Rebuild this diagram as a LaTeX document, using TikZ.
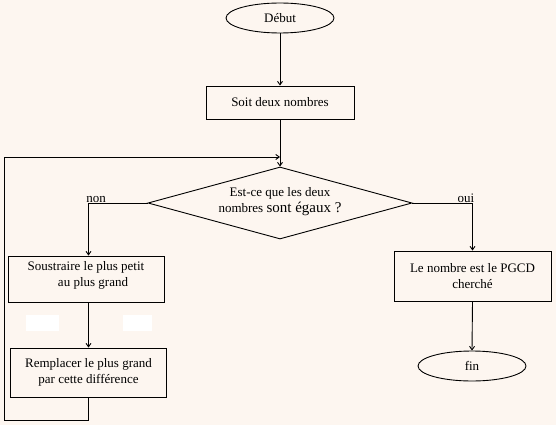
\documentclass[tikz,border=0pt]{standalone}
\usepackage{fontspec}
\setmainfont{Liberation Serif}
\usetikzlibrary{shapes.geometric,arrows.meta}
\definecolor{bg}{RGB}{253,246,240}
\begin{document}
\begin{tikzpicture}[x=1pt,y=-1pt,
  every node/.style={font=\fontsize{13}{16.5}\selectfont},
  boxnode/.style={draw,line width=0.9pt,rectangle,inner sep=0pt,align=center},
  ovalnode/.style={draw,line width=0.9pt,ellipse,inner sep=0pt,minimum width=108pt,minimum height=30pt},
  arr/.style={line width=0.9pt,-{Straight Barb[length=3.5pt,width=5pt]}},
  lbl/.style={inner sep=0pt}]
\fill[bg] (0,0) rectangle (556,425);
\useasboundingbox (0,0) rectangle (556,425);
\fill[white] (26,315) rectangle (59,331);
\fill[white] (123,315) rectangle (152,331);

\node[ovalnode] (deb) at (280,18) {Début};
\node[boxnode,minimum width=148pt,minimum height=33pt] (soit) at (280,102.5) {Soit deux nombres};
\node[draw,line width=0.9pt,diamond,aspect=3.67,inner sep=0pt,minimum width=264pt,minimum height=72pt,align=center] (q) at (280,203)
  {\mbox{}\\[-10pt]Est-ce que les deux\\nombres {\fontsize{15}{16.5}\selectfont sont égaux ?}};
\node[boxnode,minimum width=156pt,minimum height=46pt] (sous) at (86,279)
  {Soustraire le plus petit\\\hspace*{14pt}au plus grand\\[-6pt]};
\node[boxnode,minimum width=156pt,minimum height=49pt] (rempl) at (88.5,372.5)
  {Remplacer le plus grand\\par cette différence};
\node[boxnode,minimum width=157pt,minimum height=50pt] (pgcd) at (472.5,276)
  {Le nombre est le PGCD\\cherché};
\node[ovalnode] (fin) at (472,366) {fin};

\node[lbl] (non) at (96,199) {non};
\node[lbl] (oui) at (466,198) {oui};

\coordinate (l1) at (4,420);
\coordinate (l2) at (4,157);
\coordinate (j) at (280,157);

\draw[arr] (deb.south) -- (soit.north);
\draw[arr] (soit.south) -- (q.north);
\draw[arr] (q.west) -| (rempl.north |- sous.north);
\draw[arr] (q.east) -| (pgcd.north);
\draw[arr] (rempl.north |- sous.south) -- (rempl.north);
\draw[arr] (pgcd.south) -- (fin.north);
\draw[arr] (rempl.south) |- (l1) -- (l2) -- (j);
\end{tikzpicture}
\end{document}
